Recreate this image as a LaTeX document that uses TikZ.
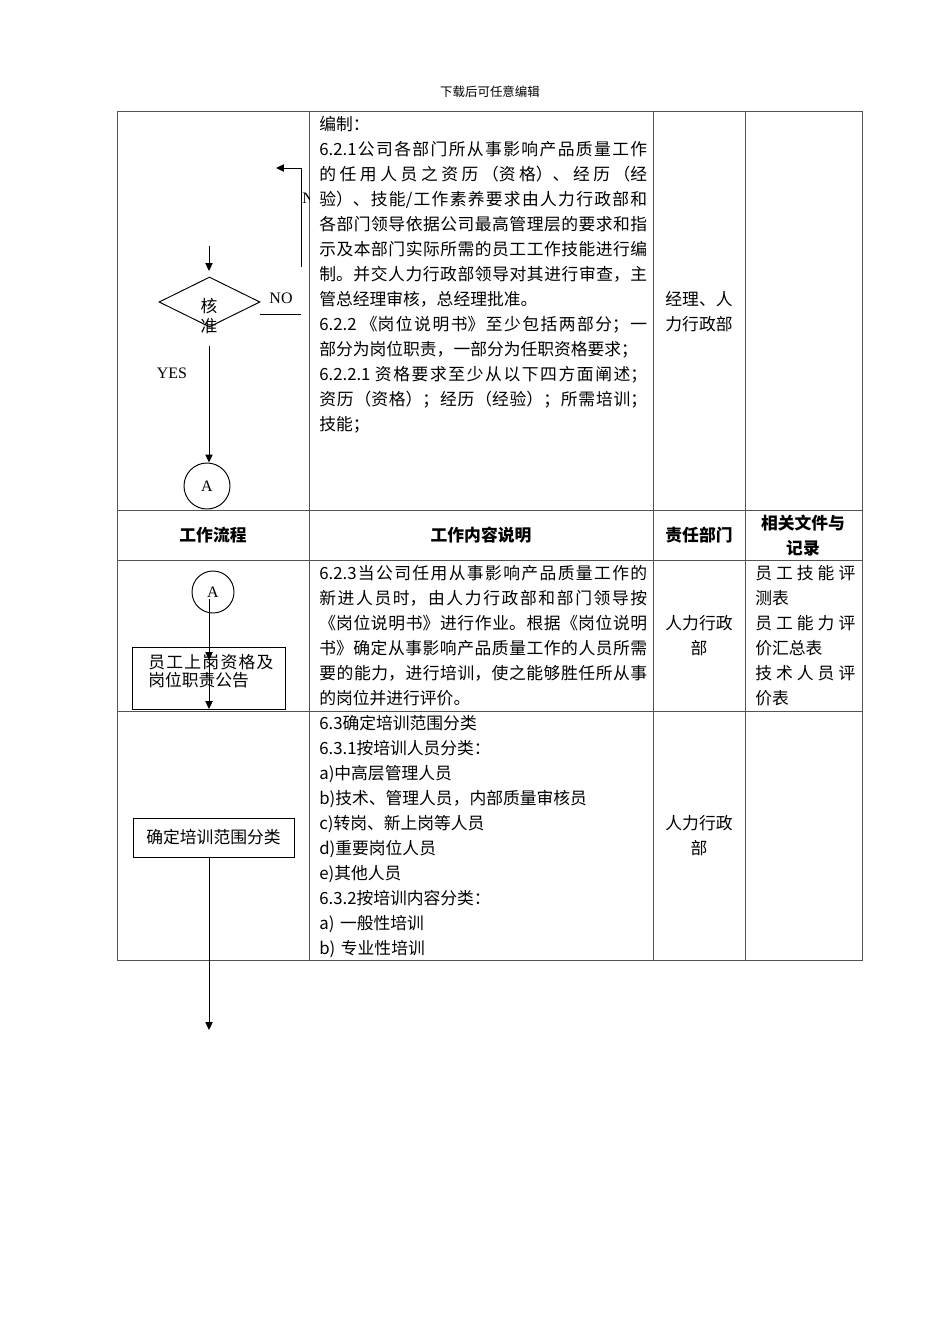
\documentclass[tikz,border=0pt]{standalone}
\usepackage{fontspec}
\setmainfont{Noto Sans CJK SC}
\newfontfamily\latinfont{Liberation Serif}
\usetikzlibrary{arrows.meta,positioning,shapes.geometric}
\XeTeXlinebreaklocale "zh"
\XeTeXlinebreakskip=0pt plus 3pt
\newcommand{\cellfont}{\fontsize{10.5pt}{15.65pt}\selectfont}
\newcommand{\tagfont}{\latinfont\fontsize{10pt}{12pt}\selectfont}

\begin{document}
\begin{tikzpicture}[x=0.626pt,y=-0.626pt,
    grid/.style={draw=gray!65!black,line width=0.6pt},
    cell/.style={anchor=base west,inner sep=0pt,align=justify,font=\cellfont},
    mid/.style={anchor=base,inner sep=0pt,align=center,font=\cellfont},
    head/.style={anchor=base,inner sep=0pt,align=center,font=\cellfont\bfseries},
    flow/.style={-{Triangle[length=5pt,width=4.6pt]},line width=0.6pt},
    plain/.style={line width=0.6pt},
    stepbox/.style={draw,line width=0.6pt,inner sep=0pt,font=\cellfont},
    decision/.style={diamond,draw,line width=0.6pt,inner sep=0pt,minimum width=63.2pt,minimum height=31.3pt},
    connector/.style={circle,draw,line width=0.6pt,inner sep=0pt,font=\tagfont},
    tag/.style={anchor=base,inner sep=0pt,font=\tagfont}
  ]
  \fill[white] (0,0) rectangle (950,1344);
  \node[anchor=base,inner sep=0pt,font=\fontsize{7.8pt}{9pt}\selectfont] (pagehead) at (490,96.6) {下载后可任意编辑};

  % table
  \draw[grid] (117,111) rectangle (862,960);
  \draw[grid] (117,510) -- (862,510);
  \draw[grid] (117,560) -- (862,560);
  \draw[grid] (117,711) -- (862,711);
  \foreach \cx in {309,653,745}
    \draw[grid] (\cx,111) -- (\cx,960);

  % row 1
  \node[cell,text width=205.3pt] (spec) at (319,130.4) {编制：\par
    6.2.1公司各部门所从事影响产品质量工作\linebreak
    的任用人员之资历（资格）、经历（经\linebreak
    验）、技能/工作素养要求由人力行政部和\linebreak
    各部门领导依据公司最高管理层的要求和指\linebreak
    示及本部门实际所需的员工工作技能进行编\linebreak
    制。并交人力行政部领导对其进行审查，主\linebreak
    管总经理审核，总经理批准。\par
    6.2.2 《岗位说明书》至少包括两部分；一\linebreak
    部分为岗位职责，一部分为任职资格要求；\par
    6.2.2.1 资格要求至少从以下四方面阐述；\linebreak
    资历（资格）；经历（经验）；所需培训；\linebreak
    技能；};
  \node[mid,text width=50pt] (dept1) at (699,305.4) {\mbox{经理、人}\\\mbox{力行政部}};

  \coordinate (in1) at (209,246);
  \coordinate (in1tip) at (209,271);
  \draw[flow] (in1) -- (in1tip);
  \node[decision] (check) at (209.5,302) {};
  \node[anchor=base,inner sep=0pt,align=center,text width=20pt,font=\fontsize{10.5pt}{12.5pt}\selectfont] (checktxt) at (209,312.4) {核\\准};
  \node[tag] (notag) at (281,303) {NO};
  \coordinate (no0) at (260,314);
  \coordinate (no1) at (301,314);
  \draw[plain] (no0) -- (no1);
  \coordinate (back0) at (301,267);
  \coordinate (back1) at (276,168);
  \draw[flow] (back0) |- (back1);
  \begin{scope}
    \clip (117,111) rectangle (309,510);
    \node[tag,anchor=base west] (nmark) at (302,203) {N};
  \end{scope}
  \node[tag] (yestag) at (172,378) {YES};
  \coordinate (yes0) at (209,346);
  \node[connector,minimum size=28.8pt] (ca1) at (207,486) {A};
  \draw[flow] (yes0) -- (yes0 |- ca1.north);

  % header row
  \node[head] (h1) at (213,541.4) {工作流程};
  \node[head] (h2) at (481,541.4) {工作内容说明};
  \node[head] (h3) at (699,541.4) {责任部门};
  \node[head,text width=62.6pt] (h4) at (803,529.4) {\mbox{相关文件与}\\\mbox{记录}};

  % row 3
  \node[connector,minimum size=26.3pt] (ca2) at (213,592) {A};
  \node[stepbox,minimum width=95.2pt,minimum height=38.8pt] (post) at (209,678) {};
  \node[cell,text width=78.3pt,font=\fontsize{10.5pt}{11.3pt}\selectfont] (posttxt) at (148,668.4) {员工上岗资格及\linebreak 岗位职责公告};
  \coordinate (a2top) at (209,599);
  \coordinate (a2mid) at (209,660);
  \coordinate (a2end) at (209,709);
  \draw[flow] (a2top) -- (a2mid);
  \draw[flow] (a2mid) -- (a2end);
  \node[cell,text width=205.3pt] (hire) at (319,579.4) {6.2.3当公司任用从事影响产品质量工作的\linebreak
    新进人员时，由人力行政部和部门领导按\linebreak
    《岗位说明书》进行作业。根据《岗位说明\linebreak
    书》确定从事影响产品质量工作的人员所需\linebreak
    要的能力，进行培训，使之能够胜任所从事\linebreak
    的岗位并进行评价。};
  \node[mid,text width=50pt] (dept3) at (699,629.4) {\mbox{人力行政}\\\mbox{部}};
  \node[cell,text width=62.6pt] (docs3) at (755,579.4) {员工技能评\linebreak 测表\par
    员工能力评\linebreak 价汇总表\par
    技术人员评\linebreak 价表};

  % row 4
  \node[stepbox,minimum width=100.8pt,minimum height=24.4pt] (scope) at (213.5,837.5) {确定培训范围分类};
  \coordinate (a3end) at (209,1030);
  \draw[flow] (scope.south -| a3end) -- (a3end);
  \node[cell,align=left,text width=205.3pt] (range) at (319,729.4) {6.3确定培训范围分类\\
    6.3.1按培训人员分类：\\
    a)中高层管理人员\\
    b)技术、管理人员，内部质量审核员\\
    c)转岗、新上岗等人员\\
    d)重要岗位人员\\
    e)其他人员\\
    6.3.2按培训内容分类：\\
    a) 一般性培训\\
    b) 专业性培训};
  \node[mid,text width=50pt] (dept4) at (699,829.4) {\mbox{人力行政}\\\mbox{部}};
\end{tikzpicture}
\end{document}
